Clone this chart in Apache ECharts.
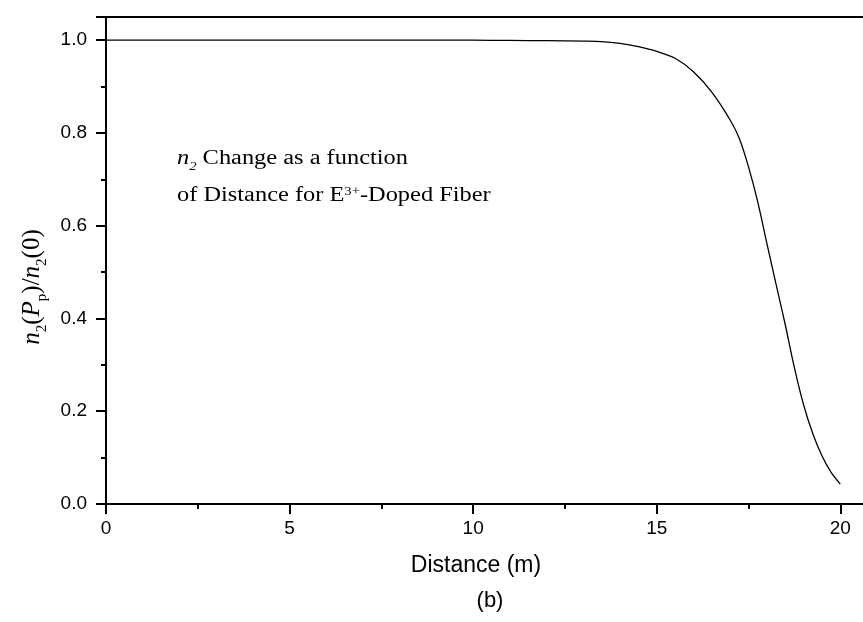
<!DOCTYPE html>
<html>
<head>
<meta charset="utf-8">
<script src="https://cdn.jsdelivr.net/npm/echarts@6/dist/echarts.min.js"></script>
<style>html,body{margin:0;padding:0;background:#fff}#c{width:863px;height:622px}</style>
</head>
<body>
<div id="c"></div>
<script>
const distance = [0, 2, 4, 6, 8, 10, 11, 12, 13, 13.5, 14, 14.5, 15, 15.5, 16, 16.5, 17, 17.25, 17.5, 17.75, 18, 18.25, 18.5, 18.75, 19, 19.25, 19.5, 19.75, 20];
const ratio = [1.0, 1.0, 1.0, 1.0, 1.0, 1.0, 0.9995, 0.999, 0.998, 0.997, 0.993, 0.986, 0.976, 0.961, 0.932, 0.888, 0.828, 0.788, 0.727, 0.652, 0.562, 0.474, 0.387, 0.294, 0.214, 0.152, 0.104, 0.068, 0.043];
const xTicks = [0, 5, 10, 15, 20];
const yTicks = [0.0, 0.2, 0.4, 0.6, 0.8, 1.0];

const chart = echarts.init(document.getElementById('c'));
const serif = 'Liberation Serif';
const sans = 'Liberation Sans';
chart.setOption({
  animation: false,
  backgroundColor: '#fff',
  grid: { left: 106, top: 17, width: 771, bottom: 118, containLabel: false, outerBoundsMode: 'none',
    show: true, borderColor: '#000', borderWidth: 2, backgroundColor: 'transparent' },
  xAxis: {
    type: 'value', min: 0, max: 21, interval: 5,
    axisLine: { show: true, onZero: false, lineStyle: { color: '#000', width: 2 } },
    axisTick: { show: true, inside: false, length: 10, lineStyle: { color: '#000', width: 2 } },
    minorTick: { show: true, splitNumber: 2, length: 5, lineStyle: { color: '#000', width: 2 } },
    splitLine: { show: false },
    axisLabel: { color: '#000', fontFamily: sans, fontSize: 19, margin: 15,
      formatter: v => xTicks.includes(v) ? String(v) : '' }
  },
  yAxis: {
    type: 'value', min: 0, max: 1.05, interval: 0.2,
    axisLine: { show: true, lineStyle: { color: '#000', width: 2 } },
    axisTick: { show: true, inside: false, length: 10, lineStyle: { color: '#000', width: 2 } },
    minorTick: { show: true, splitNumber: 2, length: 5, lineStyle: { color: '#000', width: 2 } },
    splitLine: { show: false },
    axisLabel: { color: '#000', fontFamily: sans, fontSize: 19, margin: 19,
      formatter: v => { const t = yTicks.find(y => Math.abs(y - v) < 1e-6); return t === undefined ? '' : t.toFixed(1); } }
  },
  graphic: [
    { type: 'text', x: 32, y: 287, rotation: Math.PI / 2, style: {
      text: '{i|n}{s|2}{r|(}{i|P}{s|p}{r|)/}{i|n}{s|2}{r|(0)}',
      align: 'center', verticalAlign: 'middle',
      rich: {
        i: { fontFamily: serif, fontStyle: 'italic', fontSize: 25, fill: '#000', verticalAlign: 'bottom' },
        r: { fontFamily: serif, fontSize: 25, fill: '#000', verticalAlign: 'bottom' },
        s: { fontFamily: serif, fontSize: 15, fill: '#000', verticalAlign: 'bottom', padding: [0, 0, -5, 0] }
      } } },
    { type: 'text', x: 177, y: 149, scaleX: 1.22, style: {
      text: '{i|n}{s|2}{r| Change as a function}',
      rich: {
        i: { fontFamily: serif, fontStyle: 'italic', fontSize: 20, fill: '#000', verticalAlign: 'bottom' },
        s: { fontFamily: serif, fontStyle: 'italic', fontSize: 12, fill: '#000', verticalAlign: 'bottom', padding: [0, 0, -4, 0] },
        r: { fontFamily: serif, fontSize: 20, fill: '#000', verticalAlign: 'bottom' }
      } } },
    { type: 'text', x: 177, y: 186, scaleX: 1.22, style: {
      text: '{r|of Distance for E}{u|3+}{r|-Doped Fiber}',
      rich: {
        r: { fontFamily: serif, fontSize: 20, fill: '#000', verticalAlign: 'bottom' },
        u: { fontFamily: serif, fontSize: 12, fill: '#000', verticalAlign: 'top' }
      } } },
    { type: 'text', x: 476, y: 566, style: { text: 'Distance (m)', fontFamily: sans, fontSize: 23, fill: '#000', align: 'center', verticalAlign: 'middle' } },
    { type: 'text', x: 490, y: 601, style: { text: '(b)', fontFamily: sans, fontSize: 22, fill: '#000', align: 'center', verticalAlign: 'middle' } }
  ],
  series: [{
    type: 'line', data: distance.map((x, i) => [x, ratio[i]]),
    showSymbol: false, smooth: 0.3,
    lineStyle: { color: '#000', width: 1.3 }
  }]
});
</script>
</body>
</html>
